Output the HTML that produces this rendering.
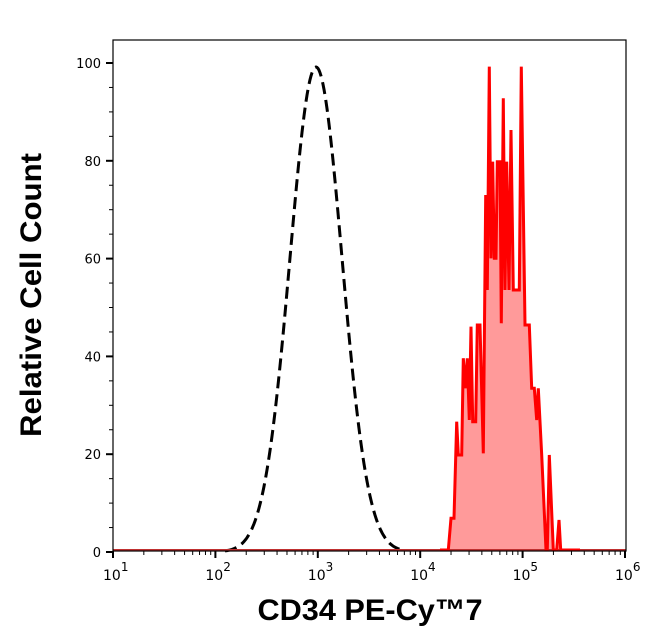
<!DOCTYPE html>
<html><head><meta charset="utf-8"><style>
body{margin:0;background:#fff;}
svg{display:block;}
</style></head><body>
<svg id="s" width="646" height="641" xmlns="http://www.w3.org/2000/svg" font-family="DejaVu Sans, sans-serif">
<rect width="646" height="641" fill="#fff"/>
<g id="g"></g>
<text x="370" y="620" font-family="Liberation Sans, sans-serif" font-weight="bold" font-size="30" text-anchor="middle" textLength="225" lengthAdjust="spacingAndGlyphs">CD34 PE-Cy™7</text>
<text transform="translate(41,295) rotate(-90)" font-family="Liberation Sans, sans-serif" font-weight="bold" font-size="30" text-anchor="middle" textLength="284" lengthAdjust="spacingAndGlyphs">Relative Cell Count</text>
</svg>
<script>
var NS="http://www.w3.org/2000/svg",g=document.getElementById("g");
function el(t,a,txt){var e=document.createElementNS(NS,t);for(var k in a)e.setAttribute(k,a[k]);if(txt!==undefined)e.textContent=txt;g.appendChild(e);return e;}
var L=113,R=626,T=40,B=551;
function X(l){return 113+(l-1)*102.4;}
function Y(v){return 552-v*4.89;}
var pts=[[0,1485],[25,1485],[33,1390],[42,1390],[50,1100],[55,1200],[65,1200],[70,910],[77,1000],[82,910],[88,1095],[93,815],[98,1100],[107,1100],[112,810],[120,810],[130,1195],[137,420],[142,705],[148,35],[153,610],[158,320],[163,610],[168,610],[172,320],[180,320],[184,805],[190,130],[195,705],[200,320],[207,705],[213,225],[220,705],[238,705],[244,35],[255,810],[268,810],[275,1000],[283,1000],[290,1095],[295,1000],[305,1200],[318,1485],[322,1485],[328,1200],[340,1485],[350,1485],[357,1395],[362,1485],[420,1485]];
var p=pts.map(function(q){return (440+q[0]/3).toFixed(1)+","+(55+q[1]/3).toFixed(1);});
el("polygon",{points:p.join(" ")+" 580,550 440,550",fill:"#ff9a9a"});
var d=[];for(var x=225;x<=400;x+=1){var y=552-485*Math.exp(-Math.pow(x-316,2)/(2*26*26));d.push(x+","+y.toFixed(1));}
el("polyline",{points:d.join(" "),fill:"none",stroke:"#000","stroke-width":3,"stroke-dasharray":"12,6"});
el("line",{x1:113,y1:550,x2:626,y2:550,stroke:"#c03030","stroke-width":2});
el("polyline",{points:p.join(" "),fill:"none",stroke:"#ff0000","stroke-width":3,"stroke-linejoin":"miter"});
el("rect",{x:L,y:T,width:R-L,height:B-T,fill:"none",stroke:"#000","stroke-width":1.2});
for(var v=0;v<=100;v+=5){var yy=Y(v);var maj=v%20==0;el("line",{x1:maj?106:109,y1:yy,x2:113,y2:yy,stroke:"#000","stroke-width":maj?2:1});if(maj)el("text",{x:101,y:yy+5,"font-size":13,"text-anchor":"end"},""+v);}
for(var dcd=1;dcd<=6;dcd++){var xx=X(dcd);el("line",{x1:xx,y1:551,x2:xx,y2:558,stroke:"#000","stroke-width":2});
var t=el("text",{x:xx-10,y:580,"font-size":14},"10");var ts=document.createElementNS(NS,"tspan");ts.setAttribute("dy","-9");ts.setAttribute("font-size","12");ts.textContent=""+dcd;t.appendChild(ts);
if(dcd<6)for(var m=2;m<=9;m++){var xm=X(dcd+Math.log10(m));el("line",{x1:xm,y1:551,x2:xm,y2:555,stroke:"#000","stroke-width":1});}}
</script>
</body></html>
